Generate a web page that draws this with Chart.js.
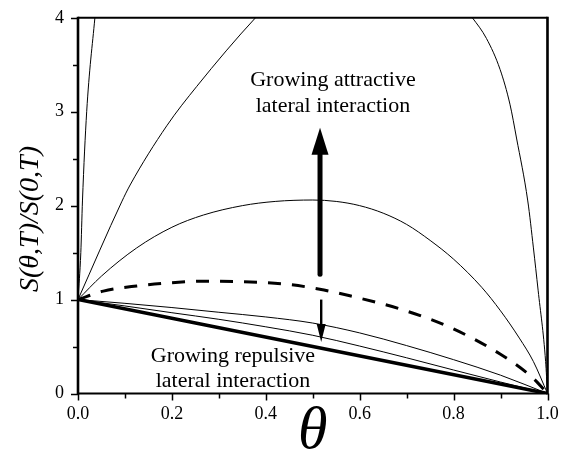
<!DOCTYPE html>
<html>
<head>
<meta charset="utf-8">
<script src="https://cdn.jsdelivr.net/npm/chart.js@4"></script>
<style>
  html, body { margin: 0; padding: 0; background: #fff; }
  #wrap { width: 572px; height: 455px; }
</style>
</head>
<body>
<div id="wrap"><canvas id="chart"></canvas></div>
<script>
// coverage values (theta) and S(theta,T)/S(0,T)
const linearX = [0, 1];
const linearY = [1, 0];

const repStrongX = [0, 0.1, 0.2, 0.3, 0.4, 0.5, 0.6, 0.7, 0.8, 0.9, 1];
const repStrongY = [1, 0.932, 0.86, 0.79, 0.71, 0.62, 0.505, 0.38, 0.25, 0.122, 0];

const repWeakX = [0, 0.1, 0.2, 0.3, 0.4, 0.5, 0.6, 0.7, 0.8, 0.9, 1];
const repWeakY = [1, 0.96, 0.915, 0.865, 0.815, 0.75, 0.645, 0.51, 0.36, 0.195, 0];

const noIntX = [0, 0.054, 0.125, 0.2, 0.267, 0.35, 0.45, 0.515, 0.579, 0.686, 0.792, 0.899, 0.97, 1];
const noIntY = [1, 1.09, 1.145, 1.18, 1.195, 1.19, 1.16, 1.11, 1.04, 0.9, 0.705, 0.42, 0.16, 0];

const attrWeakX = [0, 0.05, 0.125, 0.2, 0.267, 0.35, 0.42, 0.5, 0.55, 0.6, 0.65, 0.7, 0.75, 0.8, 0.86, 0.9, 0.94, 0.97, 1];
const attrWeakY = [1, 1.25, 1.55, 1.77, 1.9, 2.0, 2.045, 2.06, 2.045, 2.0, 1.92, 1.8, 1.63, 1.43, 1.13, 0.88, 0.59, 0.34, 0];

const attrMidX = [0, 0.093, 0.111, 0.189, 0.253, 0.378, 0.5, 0.6, 0.75, 0.84, 0.87, 0.899, 0.92, 0.934, 0.958, 0.97, 0.98, 0.996, 1];
const attrMidY = [1, 2.04, 2.22, 2.85, 3.27, 4.0, 4.6, 4.75, 4.55, 4.0, 3.78, 3.45, 3.08, 2.72, 2.05, 1.55, 1.1, 0.34, 0];

const attrStrongX = [0, 0.006, 0.0095, 0.0185, 0.036, 0.06, 0.5, 0.999, 1];
const attrStrongY = [1, 1.5, 2.05, 3.0, 4.0, 5.2, 9, 9, 0];

const xTicks = [0, 0.2, 0.4, 0.6, 0.8, 1.0];
const yTicks = [0, 1, 2, 3, 4];

const serif = '"Liberation Serif", "DejaVu Serif", serif';

function pts(xs, ys) {
    return xs.map((x, i) => ({ x: x, y: ys[i] }));
}

function lineSet(xs, ys, width, dash) {
    return {
        data: pts(xs, ys),
        borderColor: '#000',
        borderWidth: width,
        borderDash: dash || [],
        pointRadius: 0,
        fill: false,
        cubicInterpolationMode: 'monotone'
    };
}

// frame, tick marks, arrows, annotations and y title
const decorations = {
    id: 'decorations',
    afterDraw(chart) {
        const ctx = chart.ctx;
        const area = chart.chartArea;
        const xs = chart.scales.x;
        const ys = chart.scales.y;
        ctx.save();
        ctx.strokeStyle = '#000';
        ctx.fillStyle = '#000';

        // tick marks (outward, minor shorter)
        ctx.lineWidth = 1.5;
        xs.ticks.forEach(t => {
            const px = Math.round(xs.getPixelForValue(t.value)) + 0.5;
            const major = Math.round(t.value * 10) % 2 === 0;
            ctx.beginPath();
            ctx.moveTo(px, area.bottom);
            ctx.lineTo(px, area.bottom + (major ? 7 : 5));
            ctx.stroke();
        });
        ys.ticks.forEach(t => {
            const py = Math.round(ys.getPixelForValue(t.value)) + 0.5;
            const major = Number.isInteger(t.value);
            ctx.beginPath();
            ctx.moveTo(area.left, py);
            ctx.lineTo(area.left - (major ? 7 : 5), py);
            ctx.stroke();
        });

        // frame
        ctx.lineWidth = 2;
        ctx.beginPath();
        ctx.moveTo(area.left, area.top);
        ctx.lineTo(area.right, area.top);
        ctx.moveTo(area.left, area.bottom);
        ctx.lineTo(area.right, area.bottom);
        ctx.stroke();
        ctx.lineWidth = 2.6;
        ctx.beginPath();
        ctx.moveTo(area.left, area.top - 1);
        ctx.lineTo(area.left, area.bottom + 1);
        ctx.moveTo(area.right, area.top - 1);
        ctx.lineTo(area.right, area.bottom + 1);
        ctx.stroke();

        // arrows
        function arrow(xv, fromV, tipV, shaft, headLen, headHalf) {
            const x = xs.getPixelForValue(xv);
            const y0 = ys.getPixelForValue(fromV);
            const y1 = ys.getPixelForValue(tipV);
            const dir = y1 < y0 ? 1 : -1;
            ctx.lineWidth = shaft;
            ctx.beginPath();
            ctx.moveTo(x, y0);
            ctx.lineTo(x, y1 + dir * headLen);
            ctx.stroke();
            ctx.beginPath();
            ctx.moveTo(x, y1);
            ctx.lineTo(x - headHalf, y1 + dir * headLen);
            ctx.lineTo(x + headHalf, y1 + dir * headLen);
            ctx.closePath();
            ctx.fill();
        }
        ctx.lineCap = 'round';
        arrow(0.5155, 1.27, 2.83, 5, 27, 8.5);
        ctx.lineCap = 'butt';
        arrow(0.518, 1.0, 0.547, 2.4, 18, 4.5);

        // annotations
        ctx.font = '22px ' + serif;
        ctx.textAlign = 'center';
        ctx.textBaseline = 'alphabetic';
        const ax = xs.getPixelForValue(0.543);
        ctx.fillText('Growing attractive', ax, ys.getPixelForValue(3.27));
        ctx.fillText('lateral interaction', ax, ys.getPixelForValue(3.0));
        const rx = xs.getPixelForValue(0.33);
        ctx.fillText('Growing repulsive', rx, ys.getPixelForValue(0.335));
        ctx.fillText('lateral interaction', rx, ys.getPixelForValue(0.07));

        // y axis title
        ctx.font = 'italic 28px ' + serif;
        ctx.textBaseline = 'middle';
        ctx.translate(31, 219);
        ctx.rotate(-Math.PI / 2);
        ctx.fillText('S(\u03B8,T)/S(0,T)', 0, 0);
        ctx.restore();
    }
};

const ctx = document.getElementById('chart').getContext('2d');
new Chart(ctx, {
    type: 'line',
    data: {
        datasets: [
            lineSet(linearX, linearY, 3.5),
            lineSet(repStrongX, repStrongY, 1),
            lineSet(repWeakX, repWeakY, 1),
            lineSet(noIntX, noIntY, 3, [13, 11]),
            lineSet(attrWeakX, attrWeakY, 1),
            lineSet(attrMidX, attrMidY, 1),
            lineSet(attrStrongX, attrStrongY, 1)
        ]
    },
    options: {
        responsive: true,
        maintainAspectRatio: false,
        animation: false,
        devicePixelRatio: 1,
        layout: { padding: { left: 0, right: 24.5, top: 14.5, bottom: 0 } },
        plugins: {
            legend: { display: false },
            tooltip: { enabled: false }
        },
        scales: {
            x: {
                type: 'linear',
                min: 0,
                max: 1,
                afterFit: s => { s.height = 61.5; },
                afterBuildTicks: s => {
                    s.ticks = [];
                    for (let i = 0; i <= 10; i++) s.ticks.push({ value: i / 10 });
                },
                ticks: {
                    padding: 3,
                    color: '#000',
                    font: { family: serif, size: 18 },
                    maxRotation: 0,
                    callback: v => {
                        const hit = xTicks.find(t => Math.abs(t - v) < 1e-6);
                        return hit === undefined ? '' : hit.toFixed(1);
                    }
                },
                grid: { drawOnChartArea: false, drawTicks: true, tickLength: 7, color: 'transparent' },
                border: { display: false },
                title: {
                    display: true,
                    text: '\u03B8',
                    color: '#000',
                    font: { family: serif, size: 60, style: 'italic', lineHeight: 0.75 },
                    padding: { top: 0, bottom: 0 }
                }
            },
            y: {
                type: 'linear',
                min: 0,
                max: 4,
                afterFit: s => { s.width = 78; },
                afterBuildTicks: s => {
                    s.ticks = [];
                    for (let i = 0; i <= 8; i++) s.ticks.push({ value: i / 2 });
                },
                ticks: {
                    padding: 7,
                    color: '#000',
                    font: { family: serif, size: 18 },
                    callback: v => (yTicks.includes(v) ? String(v) : '')
                },
                grid: { drawOnChartArea: false, drawTicks: true, tickLength: 7, color: 'transparent' },
                border: { display: false }
            }
        }
    },
    plugins: [decorations]
});
</script>
</body>
</html>
